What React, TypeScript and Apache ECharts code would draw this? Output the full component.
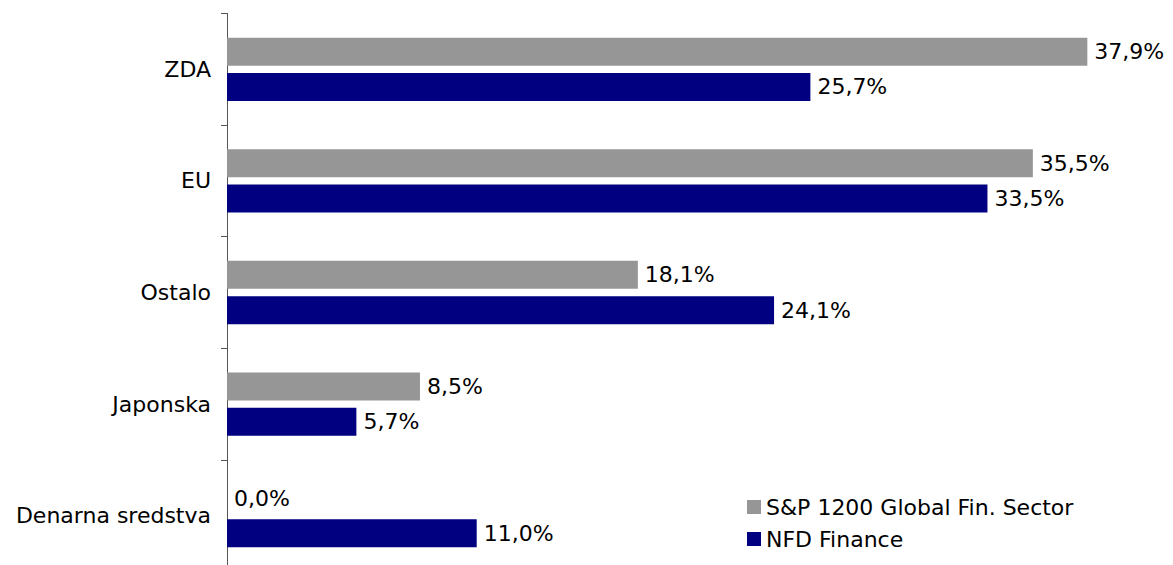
import React, { useEffect, useRef } from "react";
import * as echarts from "echarts";

const categories = ["ZDA", "EU", "Ostalo", "Japonska", "Denarna sredstva"];
const spValues = [37.9, 35.5, 18.1, 8.5, 0.0];
const nfdValues = [25.7, 33.5, 24.1, 5.7, 11.0];
const seriesNames = ["S&P 1200 Global Fin. Sector", "NFD Finance"];

const FONT = "DejaVu Sans, Verdana, sans-serif";
const FS = 22;

export default function App() {
  const ref = useRef<HTMLDivElement>(null);
  useEffect(() => {
    if (!ref.current) return;
    const chart = echarts.init(ref.current, null, { renderer: "svg" });
    const fmt = (p: any) => Number(p.value).toFixed(1).replace(".", ",") + "%";
    const label = {
      show: true,
      position: "right",
      distance: 7,
      formatter: fmt,
      fontFamily: FONT,
      fontSize: FS,
      color: "#000",
    };
    chart.setOption({
      animation: false,
      backgroundColor: "#ffffff",
      textStyle: { fontFamily: FONT },
      grid: { left: 227, right: 38, top: 13.5, height: 558 },
      legend: {
        orient: "vertical",
        left: 742,
        top: 491,
        icon: "rect",
        itemWidth: 14,
        itemHeight: 14,
        itemGap: 10,
        textStyle: { fontFamily: FONT, fontSize: FS, color: "#000" },
        data: seriesNames,
      },
      xAxis: {
        type: "value",
        min: 0,
        max: 40,
        show: false,
      },
      yAxis: {
        type: "category",
        inverse: true,
        data: categories,
        axisLine: { show: true, lineStyle: { color: "#555", width: 1 } },
        axisTick: { show: true, length: 6, lineStyle: { color: "#555" } },
        axisLabel: { fontFamily: FONT, fontSize: FS, color: "#000", margin: 16 },
      },
      series: [
        {
          name: seriesNames[0],
          type: "bar",
          data: spValues,
          barWidth: 28,
          barGap: "26%",
          itemStyle: { color: "#969696" },
          label,
        },
        {
          name: seriesNames[1],
          type: "bar",
          data: nfdValues,
          barWidth: 28,
          barGap: "26%",
          itemStyle: { color: "#000080" },
          label,
        },
      ],
    });
    return () => chart.dispose();
  }, []);
  return (
    <div
      ref={ref}
      style={{ position: "fixed", left: 0, top: 0, width: 1173, height: 585 }}
    />
  );
}
